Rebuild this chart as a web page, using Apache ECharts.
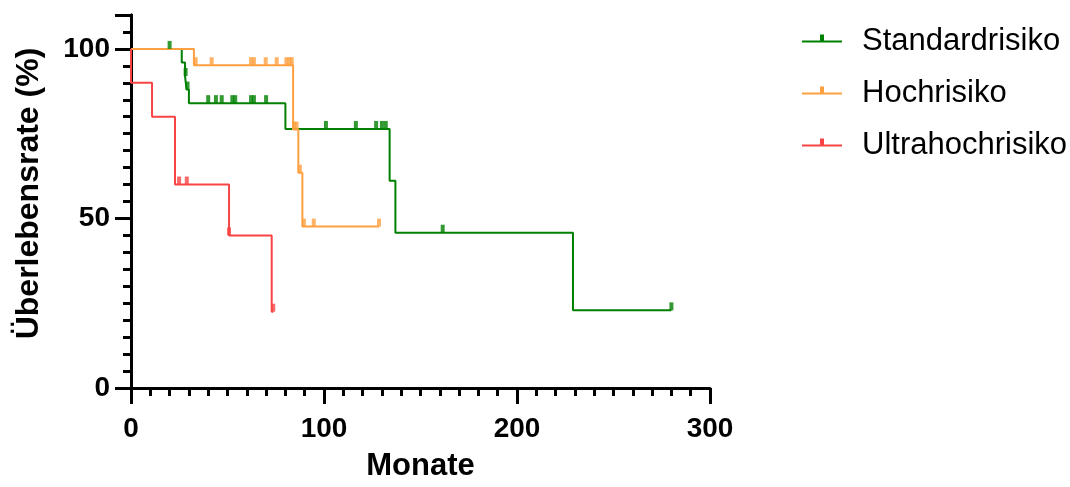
<!DOCTYPE html>
<html>
<head>
<meta charset="utf-8">
<script src="https://cdn.jsdelivr.net/npm/echarts@6/dist/echarts.min.js"></script>
<style>
  html, body { margin: 0; padding: 0; background: #fff; }
  #chart { width: 1070px; height: 487px; }
</style>
</head>
<body>
<div id="chart"></div>
<script>
const names = ['Standardrisiko', 'Hochrisiko', 'Ultrahochrisiko']
const colors = ['#008000', '#ffa040', '#f84444']

// Kaplan-Meier Stufen (Monate, Überlebensrate %)
const greenTime = [0, 26.3, 28, 28.8, 30, 80, 134, 137, 229, 280]
const greenSurv = [100, 96, 92, 88, 84, 76.4, 61.1, 45.8, 22.9, 22.9]
const greenCensTime = [20, 28.3, 29.3, 40, 44, 47, 52.5, 54, 62.2, 63.7, 70, 101, 116.5, 127, 130, 132, 161.5, 280]
const greenCensSurv = [100, 92, 88, 84, 84, 84, 84, 84, 84, 84, 84, 76.4, 76.4, 76.4, 76.4, 76.4, 45.8, 22.9]

const orangeTime = [0, 32.6, 84, 86.7, 88.8, 128.5]
const orangeSurv = [100, 95.2, 76.2, 63.5, 47.6, 47.6]
const orangeCensTime = [33.5, 41.8, 62.2, 63.7, 69.8, 75.5, 80.5, 82, 83.3, 84.5, 85.8, 87.5, 89.6, 94.7, 128.5]
const orangeCensSurv = [95.2, 95.2, 95.2, 95.2, 95.2, 95.2, 95.2, 95.2, 95.2, 76.2, 76.2, 63.5, 47.6, 47.6, 47.6]

const redTime = [0, 0, 10.9, 22.8, 50.8, 72.9, 73.7]
const redSurv = [100, 90, 80, 60, 45, 22.5, 22.5]
const redCensTime = [24.9, 28.9, 50.8, 73.7]
const redCensSurv = [60, 60, 45, 22.5]

const xTicks = [0, 100, 200, 300]
const yTicks = [0, 50, 100]

const zip = (a, b) => a.map((v, i) => [v, b[i]])

const font = '"Liberation Sans", Arial, sans-serif'

function stepSeries(i, t, s) {
  return {
    name: names[i],
    type: 'line',
    step: 'end',
    data: zip(t, s),
    showSymbol: false,
    symbol: 'none',
    color: colors[i],
    itemStyle: { color: colors[i] },
    lineStyle: { width: 2, color: colors[i] },
    z: 3
  }
}

function censSeries(i, t, s) {
  return {
    name: names[i],
    type: 'scatter',
    data: zip(t, s),
    symbol: 'rect',
    symbolSize: [4, 8],
    symbolOffset: [0, -4],
    itemStyle: { color: colors[i] },
    z: 4
  }
}

const chart = echarts.init(document.getElementById('chart'))

// Linie mit kleinem Strich nach oben, Linie mittig im Icon
const legendIcon = 'path://M0,6L40,6L40,8L0,8Z M18,0L22,0L22,6L18,6Z M20,14L20,14'

const option = {
  animation: false,
  textStyle: { fontFamily: font },
  grid: { left: 131, right: 360, top: 15, bottom: 97 },
  legend: {
    orient: 'vertical',
    left: 797,
    top: 21,
    itemWidth: 40,
    itemHeight: 14,
    itemGap: 21,
    icon: legendIcon,
    data: names,
    textStyle: {
      fontFamily: font,
      fontSize: 31,
      color: '#000',
      lineHeight: 30,
      padding: [0, 0, 0, 15]
    }
  },
  xAxis: [{
    type: 'value',
    min: 0,
    max: 300,
    interval: 100,
    name: 'Monate',
    nameLocation: 'middle',
    nameGap: 63,
    nameTextStyle: { fontFamily: font, fontSize: 31, fontWeight: 'bold', color: '#000' },
    axisLine: { onZero: false, lineStyle: { color: '#000', width: 3 } },
    axisTick: { show: true, length: 16, lineStyle: { color: '#000', width: 3 } },
    minorTick: { show: true, splitNumber: 10, length: 8, lineStyle: { color: '#000', width: 3 } },
    axisLabel: {
      margin: 27,
      fontFamily: font,
      fontSize: 28,
      fontWeight: 'bold',
      color: '#000',
      customValues: xTicks
    },
    splitLine: { show: false }
  }],
  yAxis: [{
    type: 'value',
    min: 0,
    max: 110,
    interval: 50,
    name: 'Überlebensrate (%)',
    nameLocation: 'middle',
    nameGap: 86,
    nameTextStyle: {
      fontFamily: font,
      fontSize: 32,
      fontWeight: 'bold',
      color: '#000',
      padding: [0, 0, 0, 16]
    },
    axisLine: { show: true, onZero: false, lineStyle: { color: '#000', width: 3 } },
    axisTick: { show: true, length: 16, lineStyle: { color: '#000', width: 3 } },
    axisLabel: {
      margin: 21,
      fontFamily: font,
      fontSize: 28,
      fontWeight: 'bold',
      color: '#000',
      customValues: yTicks
    },
    splitLine: { show: false }
  }, {
    // kleine Striche alle 5 %
    type: 'value',
    position: 'left',
    min: 0,
    max: 110,
    interval: 5,
    axisLine: { show: true, onZero: false, lineStyle: { color: '#000', width: 3 } },
    axisTick: { show: true, length: 8, lineStyle: { color: '#000', width: 3 } },
    axisLabel: { show: false },
    splitLine: { show: false }
  }],
  series: [
    stepSeries(0, greenTime, greenSurv),
    stepSeries(1, orangeTime, orangeSurv),
    stepSeries(2, redTime, redSurv),
    censSeries(0, greenCensTime, greenCensSurv),
    censSeries(1, orangeCensTime, orangeCensSurv),
    censSeries(2, redCensTime, redCensSurv)
  ]
}

chart.setOption(option)
</script>
</body>
</html>
